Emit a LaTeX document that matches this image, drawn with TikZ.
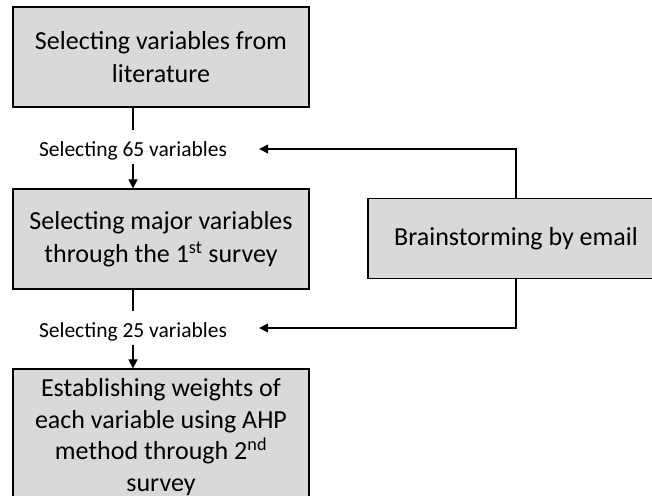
\documentclass[tikz,border=0pt]{standalone}
\usepackage{fontspec}
\setmainfont{Carlito}
\usetikzlibrary{arrows.meta}

\tikzset{
  stage/.style={draw, fill=black!15, line width=1.2pt, minimum width=296pt,
    align=center, font=\fontsize{26}{32.5}\selectfont},
  count/.style={inner sep=0pt, font=\fontsize{21.5}{25}\selectfont},
  flow/.style={line width=1.2pt, -{Triangle[length=9pt,width=9pt]}}
}

\begin{document}
\begin{tikzpicture}[x=1pt,y=1pt]
\useasboundingbox (0,0) rectangle (652,495);

\node[stage, minimum height=100pt] (lit) at (161,438) {Selecting variables from\\literature};
\node[stage, minimum height=100pt] (major) at (161,256) {Selecting major variables\\through the 1\textsuperscript{st} survey};
\node[stage, minimum height=136pt, font=\fontsize{26}{31.5}\selectfont] (ahp) at (161,58) {Establishing weights of\\each variable using AHP\\method through 2\textsuperscript{nd}\\survey};
\node[stage, minimum height=80pt] (brain) at (516,256.5) {Brainstorming by email};

\node[count] (c65) at (133,344) {Selecting 65 variables};
\node[count] (c25) at (133,163) {Selecting 25 variables};

% main chain
\draw[line width=1.2pt] (lit.south -| c65) -- ([yshift=11pt]c65.north);
\draw[flow] ([yshift=-3pt]c65.south) -- (c65.south |- major.north);
\draw[line width=1.2pt] (major.south -| c25) -- ([yshift=11pt]c25.north);
\draw[flow] ([yshift=-3pt]c25.south) -- (c25.south |- ahp.north);

% feedback from brainstorming
\draw[flow] (brain.north) |- ([xshift=32pt,yshift=2pt]c65.east);
\draw[flow] (brain.south) |- ([xshift=32pt,yshift=4pt]c25.east);
\end{tikzpicture}
\end{document}
